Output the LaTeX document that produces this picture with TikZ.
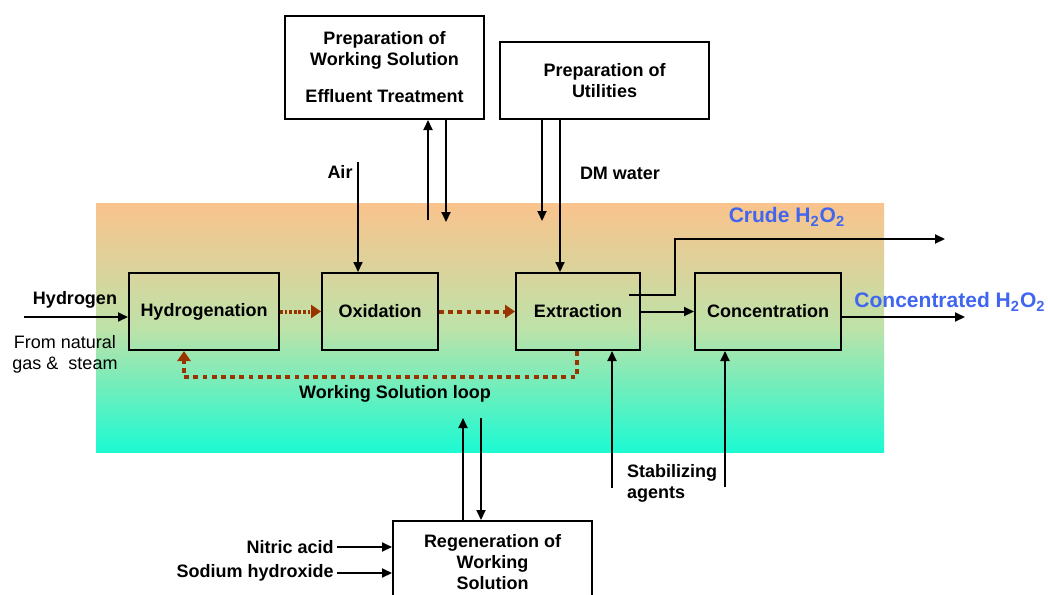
\documentclass[tikz,border=0pt]{standalone}
\usepackage{fontspec}
\setmainfont{Liberation Sans}
\usepackage{xcolor}
\usepackage{tikz}
\usetikzlibrary{shapes,arrows.meta}

\definecolor{bgtop}{RGB}{250,195,141}
\definecolor{bgmid}{RGB}{190,226,168}
\definecolor{bgbot}{RGB}{28,250,210}
\definecolor{loopbrown}{RGB}{153,51,0}
\definecolor{prodblue}{RGB}{64,102,240}

\begin{document}
\begin{tikzpicture}[
        x=0.5pt, y=-0.5pt,
        font=\fontsize{9}{10.5}\selectfont\bfseries,
        block/.style={draw, line width=1pt, minimum height=38.5pt, align=center, inner sep=0pt},
        flow/.style={line width=1pt, -{Triangle[length=5pt,width=4.5pt]}},
        wsloop/.style={loopbrown, line width=2pt, dash pattern=on 2.4pt off 2.2pt, -{Triangle[length=5pt,width=6.5pt]}},
        wsdots/.style={wsloop, dash pattern=on 1.4pt off 0.9pt},
        product/.style={text=prodblue, font=\fontsize{10.5}{12}\selectfont\bfseries}
      ]
      \useasboundingbox (0,0) rectangle (1048,594);
      \shade[top color=bgtop, bottom color=bgbot, middle color=bgmid] (96,203) rectangle (884,452);

      \node[block, minimum width=75pt] (hyd) at (204,311.5) {Hydrogenation};
      \node[block, minimum width=58pt] (oxi) at (380,311.5) {Oxidation};
      \node[block, minimum width=62pt] (ext) at (578,311.5) {Extraction};
      \node[block, minimum width=73pt] (con) at (768,311.5) {Concentration};
      \node[block, minimum width=99.5pt, minimum height=51.5pt] (prepws) at (384.5,67.5)
        {\raisebox{-1.5pt}{\parbox{99pt}{\centering Preparation of\\Working Solution\\[8pt]Effluent Treatment}}};
      \node[block, minimum width=104.5pt] (prepu) at (604.5,80.5) {Preparation of\\Utilities};
      \node[block, minimum width=99.5pt, minimum height=41pt] (regen) at (492.5,562)
        {Regeneration of\\Working\\Solution};

      \node (h2) at (75,300) {Hydrogen};
      \node[font=\fontsize{9}{10.5}\selectfont, align=center] (src) at (65,354) {From natural\\gas \&\ \ steam};
      \node (air) at (340,172) {Air};
      \node (dm) at (620,173) {DM water};
      \node (wsl) at (395,394) {Working Solution loop};
      \node[align=left, anchor=west] (stab) at (620,483) {Stabilizing\\agents};
      \node[anchor=east, inner sep=1.5pt] (nitric) at (337,547) {Nitric acid};
      \node[anchor=east, inner sep=1.5pt] (naoh) at (337,573) {Sodium hydroxide};
      \node[product] (crude) at (787,217) {Crude H\textsubscript{2}O\textsubscript{2}};
      \node[product] (conc) at (950,302) {Concentrated H\textsubscript{2}O\textsubscript{2}};

      \coordinate (h2in) at (24,317);
      \coordinate (airin) at (358,162);
      \coordinate (wsup) at (428,220);
      \coordinate (wsdown) at (446,222);
      \coordinate (utdown) at (542,221);
      \coordinate (dmin) at (560,0);
      \coordinate (crstart) at (629,295);
      \coordinate (crbend) at (675,239);
      \coordinate (crout) at (945,239);
      \coordinate (concout) at (965,317);
      \coordinate (stab1) at (612,488);
      \coordinate (stab2) at (725,487);
      \coordinate (rgup) at (463,418);
      \coordinate (rgdown) at (481,418);
      \coordinate (loopA) at (577,377);
      \coordinate (loopB) at (184,377);

      \draw[flow] (h2in) -- (h2in -| hyd.west);
      \draw[flow] (airin) -- (airin |- oxi.north);
      \draw[flow] (wsup) -- (wsup |- prepws.south);
      \draw[flow] (wsdown |- prepws.south) -- (wsdown);
      \draw[flow] (utdown |- prepu.south) -- (utdown);
      \draw[flow] (dmin |- prepu.south) -- (dmin |- ext.north);
      \draw[flow] (crstart) -| (crbend) -- (crout);
      \draw[flow] (ext) -- (con);
      \draw[flow] (concout -| con.east) -- (concout);
      \draw[flow] (stab1) -- (stab1 |- ext.south);
      \draw[flow] (stab2) -- (stab2 |- con.south);
      \draw[flow] (rgup |- regen.north) -- (rgup);
      \draw[flow] (rgdown) -- (rgdown |- regen.north);
      \draw[flow] (nitric) -- (nitric -| regen.west);
      \draw[flow] (naoh) -- (naoh -| regen.west);
      \draw[wsdots] (hyd) -- (oxi);
      \draw[wsloop] (oxi) -- (ext);
      \draw[wsloop] (loopA |- ext.south) -- (loopA) -- (loopB) -- (loopB |- hyd.south);
    \end{tikzpicture}
\end{document}
